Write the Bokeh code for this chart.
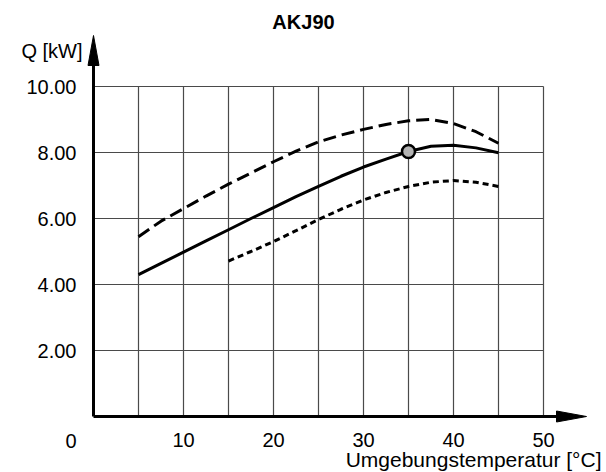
from bokeh.plotting import figure
from bokeh.models import LinearAxis, FixedTicker, Range1d
from bokeh.core.properties import value
from bokeh.embed import file_html
from bokeh.resources import INLINE

# ---------------- data ----------------
title = "AKJ90"
y_label = "Q [kW]"
x_label = "Umgebungstemperatur [°C]"
origin_label = "0"

x_ticks = [10, 20, 30, 40, 50]
x_tick_labels = ["10", "20", "30", "40", "50"]
y_ticks = [2, 4, 6, 8, 10]
y_tick_labels = ["2.00", "4.00", "6.00", "8.00", "10.00"]
grid_x = [5, 10, 15, 20, 25, 30, 35, 40, 45, 50]
grid_y = [2, 4, 6, 8, 10]

# upper curve (dashed)
upper_x = [5, 7.5, 10, 12.5, 15, 17.5, 20, 22.5, 25, 27.5, 30, 32.5, 35, 37.5, 40, 42.5, 45]
upper_y = [5.45, 5.92, 6.30, 6.68, 7.04, 7.38, 7.72, 8.04, 8.32, 8.53, 8.70, 8.85, 8.96, 9.00, 8.88, 8.63, 8.28]
# nominal curve (solid)
nominal_x = [5, 7.5, 10, 12.5, 15, 17.5, 20, 22.5, 25, 27.5, 30, 32.5, 35, 37.5, 40, 42.5, 45]
nominal_y = [4.30, 4.64, 4.98, 5.32, 5.66, 6.00, 6.33, 6.66, 6.97, 7.28, 7.56, 7.80, 8.03, 8.19, 8.22, 8.14, 7.99]
# lower curve (dotted)
lower_x = [15, 17.5, 20, 22.5, 25, 27.5, 30, 32.5, 35, 37.5, 40, 42.5, 45]
lower_y = [4.71, 5.00, 5.30, 5.63, 5.97, 6.28, 6.56, 6.79, 6.97, 7.10, 7.15, 7.10, 6.97]
# rated point
point_x = [35]
point_y = [8.03]

# ---------------- layout calibration ----------------
W, H = 606, 472
X0_PX, PX_PER_X = 93.0, 9.0     # pixel of x=0, pixels per unit
Y0_PX, PX_PER_Y = 416.0, 33.0   # pixel of y=0, pixels per unit


def px2x(px):
    return (px - X0_PX) / PX_PER_X


def py2y(py):
    return (Y0_PX - py) / PX_PER_Y


FONT = value("Liberation Sans")

p = figure(width=W, height=H,
           x_range=Range1d(px2x(0), px2x(W)),
           y_range=Range1d(py2y(H), py2y(0)),
           output_backend="svg", toolbar_location=None,
           min_border=0, outline_line_color=None,
           x_axis_location=None, y_axis_location=None)
p.center = []
p.background_fill_color = "white"
p.border_fill_color = "white"

# axes tick labels (fixed at the data origin)
yaxis = LinearAxis(fixed_location=0, ticker=FixedTicker(ticks=y_ticks),
                   major_label_overrides={t: l for t, l in zip(y_ticks, y_tick_labels)},
                   axis_line_color=None, major_tick_line_color=None, minor_tick_line_color=None,
                   major_tick_out=0, major_tick_in=0, major_label_standoff=17,
                   major_label_text_font="Liberation Sans", major_label_text_font_size="20px",
                   major_label_text_color="black")
p.add_layout(yaxis, "left")
xaxis = LinearAxis(fixed_location=0, ticker=FixedTicker(ticks=x_ticks),
                   major_label_overrides={t: l for t, l in zip(x_ticks, x_tick_labels)},
                   axis_line_color=None, major_tick_line_color=None, minor_tick_line_color=None,
                   major_tick_out=0, major_tick_in=0, major_label_standoff=16,
                   major_label_text_font="Liberation Sans", major_label_text_font_size="20px",
                   major_label_text_color="black")
p.add_layout(xaxis, "below")

# grid
gx_max, gy_max = max(grid_x), max(grid_y)
p.segment(x0=grid_x, y0=[0] * len(grid_x), x1=grid_x, y1=[gy_max] * len(grid_x),
          line_color="#4a4a4a", line_width=1.2)
p.segment(x0=[0] * len(grid_y), y0=grid_y, x1=[gx_max] * len(grid_y), y1=grid_y,
          line_color="#4a4a4a", line_width=1.2)

# curves
p.line(upper_x, upper_y, line_color="black", line_width=3, line_dash="13 6")
p.line(lower_x, lower_y, line_color="black", line_width=3, line_dash="6 4")
p.line(nominal_x, nominal_y, line_color="black", line_width=3)

# axis lines with arrow heads
x_tip, x_base = px2x(586), px2x(556)
y_tip, y_base = py2y(35), py2y(65)
half_w_x = 5.5 / PX_PER_X
half_h_y = 5.5 / PX_PER_Y
p.segment(x0=[0, 0], y0=[0, 0], x1=[x_base, 0], y1=[0, y_base], line_color="black", line_width=3)
p.patches(xs=[[x_base, x_tip, x_base], [-half_w_x, 0, half_w_x]],
          ys=[[-half_h_y, 0, half_h_y], [y_base, y_tip, y_base]],
          fill_color="black", line_color="black", line_width=1)

# rated point
p.scatter(point_x, point_y, size=13, fill_color="#b4b4b4", line_color="black", line_width=2.5)

# texts
p.text(x=[px2x(303)], y=[py2y(21)], text=[title], text_font=FONT, text_font_style="bold",
       text_font_size="20px", text_align="center", text_baseline="middle", text_color="black")
p.text(x=[px2x(82)], y=[py2y(50)], text=[y_label], text_font=FONT,
       text_font_size="20px", text_align="right", text_baseline="middle", text_color="black")
p.text(x=[px2x(70.5)], y=[py2y(440)], text=[origin_label], text_font=FONT,
       text_font_size="20px", text_align="center", text_baseline="middle", text_color="black")
p.text(x=[px2x(601)], y=[py2y(459)], text=[x_label], text_font=FONT,
       text_font_size="21px", text_align="right", text_baseline="middle", text_color="black")

open("out.html", "w").write(file_html(p, INLINE))
